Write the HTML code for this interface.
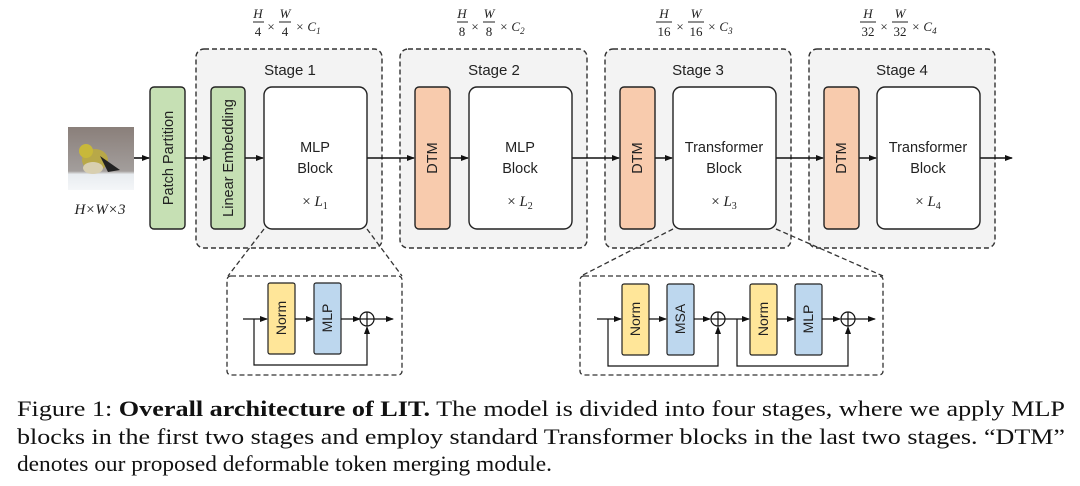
<!DOCTYPE html>
<html><head><meta charset="utf-8"><style>
html,body{margin:0;padding:0;background:#fff;}
svg{display:block}
.s{font-family:"Liberation Sans",sans-serif;fill:#222}
.m{font-family:"Liberation Serif",serif;font-style:italic;fill:#222}
.c{font-family:"Liberation Serif",serif;fill:#111;font-size:22px}
</style></head><body>
<svg width="1080" height="486" viewBox="0 0 1080 486" xmlns="http://www.w3.org/2000/svg">
<defs>
<marker id="a" markerWidth="8" markerHeight="8" refX="7" refY="4" orient="auto" markerUnits="userSpaceOnUse"><path d="M0,1 L8,4 L0,7 Z" fill="#111"/></marker>
<linearGradient id="sky" x1="0" y1="0" x2="0" y2="1"><stop offset="0" stop-color="#8a7f7a"/><stop offset="0.7" stop-color="#a39e9c"/><stop offset="0.75" stop-color="#e8ecf0"/><stop offset="1" stop-color="#f4f6f8"/></linearGradient>
</defs>
<rect x="68" y="127" width="66" height="63" fill="url(#sky)"/>
<ellipse cx="95" cy="160" rx="13" ry="11" fill="#b8a848"/>
<circle cx="86" cy="151" r="7" fill="#c8b83a"/>
<path d="M100,156 L120,170 L108,172 Z" fill="#222"/>
<ellipse cx="93" cy="168" rx="10" ry="6" fill="#d8cfb0"/>
<text x="100" y="214" class="m" font-size="15" text-anchor="middle">H×W×3</text>

<g fill="#f3f3f3" stroke="#333" stroke-width="1.4" stroke-dasharray="5,3">
<rect x="196" y="49" width="186" height="199" rx="8"/>
<rect x="400" y="49" width="187" height="199" rx="8"/>
<rect x="605" y="49" width="186" height="199" rx="8"/>
<rect x="809" y="49" width="186" height="199" rx="8"/>
</g>
<g class="s" font-size="15" text-anchor="middle">
<text x="290" y="75">Stage 1</text><text x="494" y="75">Stage 2</text>
<text x="698" y="75">Stage 3</text><text x="902" y="75">Stage 4</text>
</g>
<g class="m" font-size="13" text-anchor="middle">
<text x="258" y="18">H</text><line x1="253" y1="22" x2="264" y2="22" stroke="#222"/><text x="258" y="36" font-style="normal">4</text>
<text x="271" y="31" font-style="normal">×</text>
<text x="285" y="18">W</text><line x1="279" y1="22" x2="291" y2="22" stroke="#222"/><text x="285" y="36" font-style="normal">4</text>
<text x="308" y="31">× C<tspan font-size="9" dy="3">1</tspan></text>

<text x="462" y="18">H</text><line x1="457" y1="22" x2="468" y2="22" stroke="#222"/><text x="462" y="36" font-style="normal">8</text>
<text x="475" y="31" font-style="normal">×</text>
<text x="489" y="18">W</text><line x1="483" y1="22" x2="495" y2="22" stroke="#222"/><text x="489" y="36" font-style="normal">8</text>
<text x="512" y="31">× C<tspan font-size="9" dy="3">2</tspan></text>

<text x="664" y="18">H</text><line x1="656" y1="22" x2="672" y2="22" stroke="#222"/><text x="664" y="36" font-style="normal">16</text>
<text x="680" y="31" font-style="normal">×</text>
<text x="696" y="18">W</text><line x1="688" y1="22" x2="704" y2="22" stroke="#222"/><text x="696" y="36" font-style="normal">16</text>
<text x="720" y="31">× C<tspan font-size="9" dy="3">3</tspan></text>

<text x="868" y="18">H</text><line x1="860" y1="22" x2="876" y2="22" stroke="#222"/><text x="868" y="36" font-style="normal">32</text>
<text x="884" y="31" font-style="normal">×</text>
<text x="900" y="18">W</text><line x1="892" y1="22" x2="908" y2="22" stroke="#222"/><text x="900" y="36" font-style="normal">32</text>
<text x="924" y="31">× C<tspan font-size="9" dy="3">4</tspan></text>
</g>

<g stroke="#111" stroke-width="1.6" marker-end="url(#a)">
<line x1="134" y1="158" x2="149" y2="158"/>
<line x1="185" y1="158" x2="210" y2="158"/>
<line x1="245" y1="158" x2="263" y2="158"/>
<line x1="367" y1="158" x2="414" y2="158"/>
<line x1="450" y1="158" x2="468" y2="158"/>
<line x1="572" y1="158" x2="619" y2="158"/>
<line x1="655" y1="158" x2="672" y2="158"/>
<line x1="776" y1="158" x2="823" y2="158"/>
<line x1="859" y1="158" x2="876" y2="158"/>
<line x1="980" y1="158" x2="1012" y2="158"/>
</g>

<g stroke="#222" stroke-width="1.4">
<rect x="150" y="87" width="35" height="142" rx="4" fill="#c6e0b4"/>
<rect x="211" y="87" width="34" height="142" rx="4" fill="#c6e0b4"/>
<rect x="415" y="87" width="35" height="142" rx="4" fill="#f8cbad"/>
<rect x="620" y="87" width="35" height="142" rx="4" fill="#f8cbad"/>
<rect x="824" y="87" width="35" height="142" rx="4" fill="#f8cbad"/>
<rect x="264" y="87" width="103" height="142" rx="8" fill="#fff"/>
<rect x="469" y="87" width="103" height="142" rx="8" fill="#fff"/>
<rect x="673" y="87" width="103" height="142" rx="8" fill="#fff"/>
<rect x="877" y="87" width="103" height="142" rx="8" fill="#fff"/>
</g>
<g class="s" font-size="14.5" text-anchor="middle">
<text transform="translate(173,158) rotate(-90)">Patch Partition</text>
<text transform="translate(233,158) rotate(-90)">Linear Embedding</text>
<text transform="translate(437,158) rotate(-90)">DTM</text>
<text transform="translate(642,158) rotate(-90)">DTM</text>
<text transform="translate(846,158) rotate(-90)">DTM</text>
<text x="315" y="152">MLP</text><text x="315" y="173">Block</text>
<text x="520" y="152">MLP</text><text x="520" y="173">Block</text>
<text x="724" y="152">Transformer</text><text x="724" y="173">Block</text>
<text x="928" y="152">Transformer</text><text x="928" y="173">Block</text>
</g>
<g class="m" font-size="15" text-anchor="middle">
<text x="315" y="206"><tspan font-style="normal">× </tspan>L<tspan font-size="10" dy="3" font-style="normal">1</tspan></text>
<text x="520" y="206"><tspan font-style="normal">× </tspan>L<tspan font-size="10" dy="3" font-style="normal">2</tspan></text>
<text x="724" y="206"><tspan font-style="normal">× </tspan>L<tspan font-size="10" dy="3" font-style="normal">3</tspan></text>
<text x="928" y="206"><tspan font-style="normal">× </tspan>L<tspan font-size="10" dy="3" font-style="normal">4</tspan></text>
</g>

<g fill="none" stroke="#333" stroke-width="1.3" stroke-dasharray="5,3">
<line x1="264" y1="229" x2="228" y2="276"/>
<line x1="367" y1="229" x2="402" y2="276"/>
<line x1="673" y1="229" x2="581" y2="276"/>
<line x1="776" y1="229" x2="883" y2="276"/>
<rect x="227" y="276" width="175" height="99" rx="4"/>
<rect x="580" y="276" width="303" height="99" rx="4"/>
</g>
<g stroke="#222" stroke-width="1.2">
<rect x="268" y="283" width="27" height="71" rx="2" fill="#ffe699"/>
<rect x="314" y="283" width="27" height="71" rx="2" fill="#bdd7ee"/>
<rect x="622" y="284" width="27" height="71" rx="2" fill="#ffe699"/>
<rect x="667" y="284" width="27" height="71" rx="2" fill="#bdd7ee"/>
<rect x="750" y="284" width="27" height="71" rx="2" fill="#ffe699"/>
<rect x="795" y="284" width="27" height="71" rx="2" fill="#bdd7ee"/>
</g>
<g stroke="#111" stroke-width="1.2" fill="none">
<line x1="243" y1="319" x2="267" y2="319" marker-end="url(#a)"/>
<line x1="295" y1="319" x2="313" y2="319" marker-end="url(#a)"/>
<line x1="341" y1="319" x2="360" y2="319" marker-end="url(#a)"/>
<circle cx="367" cy="319" r="7"/><line x1="360" y1="319" x2="374" y2="319"/><line x1="367" y1="312" x2="367" y2="326"/>
<line x1="374" y1="319" x2="393" y2="319" marker-end="url(#a)"/>
<polyline points="254,319 254,365 367,365 367,327" marker-end="url(#a)"/>
<line x1="597" y1="319" x2="621" y2="319" marker-end="url(#a)"/>
<line x1="649" y1="319" x2="666" y2="319" marker-end="url(#a)"/>
<line x1="694" y1="319" x2="710" y2="319" marker-end="url(#a)"/>
<circle cx="718" cy="319" r="7"/><line x1="711" y1="319" x2="725" y2="319"/><line x1="718" y1="312" x2="718" y2="326"/>
<line x1="725" y1="319" x2="749" y2="319" marker-end="url(#a)"/>
<line x1="777" y1="319" x2="794" y2="319" marker-end="url(#a)"/>
<line x1="822" y1="319" x2="840" y2="319" marker-end="url(#a)"/>
<circle cx="848" cy="319" r="7"/><line x1="841" y1="319" x2="855" y2="319"/><line x1="848" y1="312" x2="848" y2="326"/>
<line x1="855" y1="319" x2="875" y2="319" marker-end="url(#a)"/>
<polyline points="608,319 608,366 718,366 718,327" marker-end="url(#a)"/>
<polyline points="737,319 737,366 848,366 848,327" marker-end="url(#a)"/>
</g>
<g class="s" font-size="14" text-anchor="middle">
<text transform="translate(286,318) rotate(-90)">Norm</text>
<text transform="translate(332,318) rotate(-90)">MLP</text>
<text transform="translate(640,319) rotate(-90)">Norm</text>
<text transform="translate(685,319) rotate(-90)">MSA</text>
<text transform="translate(768,319) rotate(-90)">Norm</text>
<text transform="translate(813,319) rotate(-90)">MLP</text>
</g>

<text class="c" x="17" y="416" textLength="1048" lengthAdjust="spacingAndGlyphs">Figure 1: <tspan font-weight="bold">Overall architecture of LIT.</tspan> The model is divided into four stages, where we apply MLP</text>
<text class="c" x="17" y="444" textLength="1048" lengthAdjust="spacingAndGlyphs">blocks in the first two stages and employ standard Transformer blocks in the last two stages. “DTM”</text>
<text class="c" x="17" y="471" textLength="535" lengthAdjust="spacingAndGlyphs">denotes our proposed deformable token merging module.</text>
</svg>
</body></html>
